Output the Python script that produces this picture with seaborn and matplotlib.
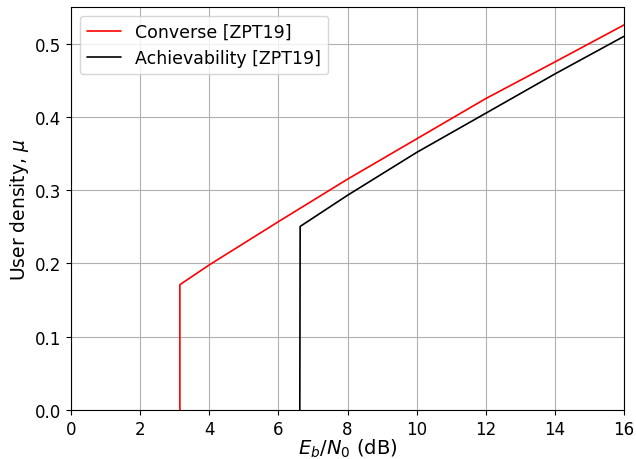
import matplotlib
matplotlib.use("Agg")
import matplotlib.pyplot as plt
import seaborn as sns
import pandas as pd

# Converse [ZPT19]
conv_x = [3.15, 3.15, 4, 6, 8, 10, 12, 14, 16]
conv_y = [0.0, 0.171, 0.198, 0.257, 0.315, 0.370, 0.425, 0.475, 0.5255]
# Achievability [ZPT19]
ach_x = [6.62, 6.63, 8, 10, 12, 14, 16]
ach_y = [0.0, 0.2505, 0.293, 0.3515, 0.405, 0.4586, 0.510]

labels = ["Converse [ZPT19]", "Achievability [ZPT19]"]
colors = ["red", "black"]

sns.set_style("ticks")
plt.rcParams["font.family"] = ["DejaVu Sans"]
plt.rcParams["font.size"] = 12
plt.rcParams["mathtext.fontset"] = "dejavusans"
for k in ["text.color", "axes.labelcolor", "xtick.color", "ytick.color"]:
    plt.rcParams[k] = "black"

fig, ax = plt.subplots(figsize=(6.36, 4.6), dpi=100)

df1 = pd.DataFrame({"x": conv_x, "y": conv_y})
df2 = pd.DataFrame({"x": ach_x, "y": ach_y})
sns.lineplot(data=df1, x="x", y="y", sort=False, estimator=None, color=colors[0],
             label=labels[0], linewidth=1.2, ax=ax)
sns.lineplot(data=df2, x="x", y="y", sort=False, estimator=None, color=colors[1],
             label=labels[1], linewidth=1.2, ax=ax)

ax.set_xlim(0, 16)
ax.set_ylim(0, 0.55)
ax.set_xticks(range(0, 17, 2))
ax.set_yticks([0.0, 0.1, 0.2, 0.3, 0.4, 0.5])
ax.grid(True, color="#b0b0b0", linewidth=0.8)
ax.tick_params(labelsize=12, direction="out", length=3.5, width=0.8,
               color="black", labelcolor="black")
for s in ax.spines.values():
    s.set_color("black")
    s.set_linewidth(0.8)
ax.set_xlabel(r"$E_b/N_0$ (dB)", fontsize=14, labelpad=-1, color="black")
ax.set_ylabel(r"User density, $\mu$", fontsize=13.5, labelpad=3, color="black")
leg = ax.legend(loc="upper left", fontsize=12.5, frameon=True)
for t in leg.get_texts():
    t.set_color("black")

fig.subplots_adjust(left=71/636, right=624/636, top=1-8/460, bottom=1-411/460)
fig.savefig("out.png", dpi=100)
